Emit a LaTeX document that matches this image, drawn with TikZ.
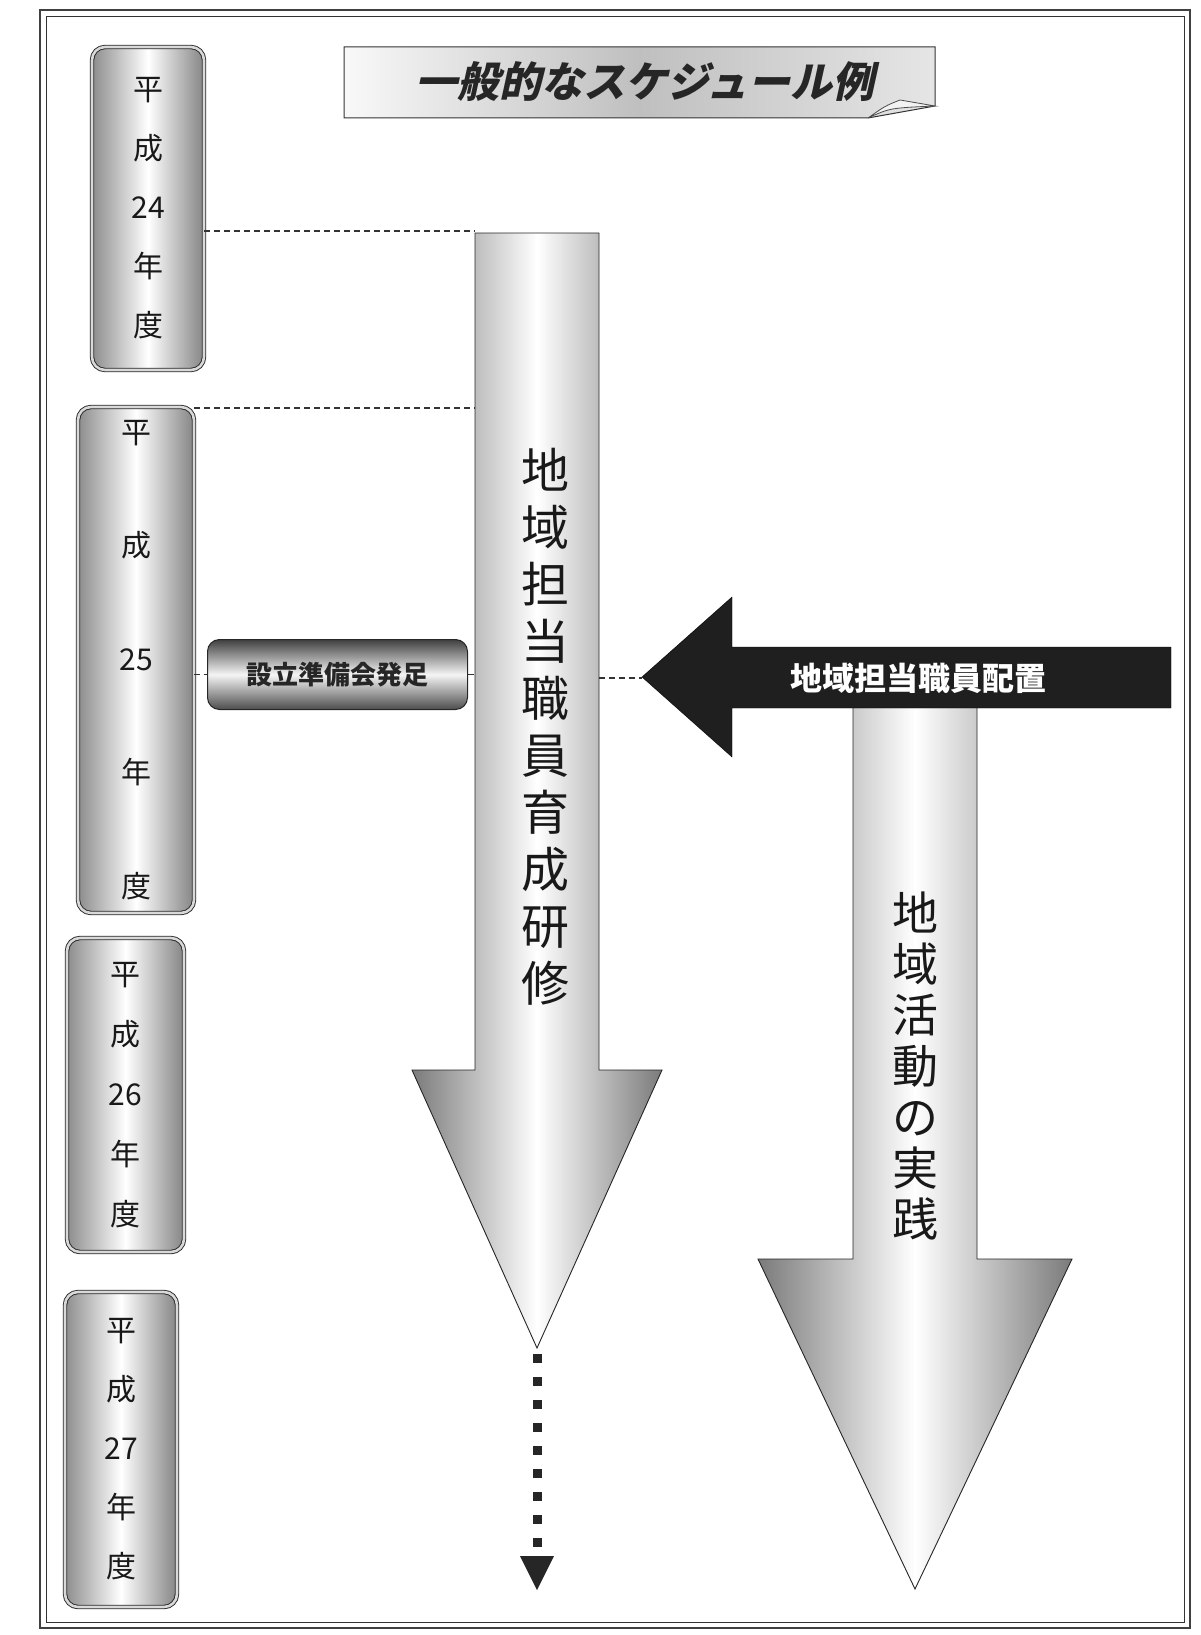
\documentclass[tikz,border=0pt]{standalone}
\usepackage{fontspec}
\setmainfont{Noto Sans CJK JP}
\newfontfamily\titlefont{Noto Sans CJK JP}[FakeSlant=0.22]
\usetikzlibrary{calc}
\newcommand\myyfont[1]{\fontsize{30}{#1}\selectfont}
\tikzset{
  yearbox/.style={draw=black!85, line width=0.9pt, double=gray!30, double distance=2.6pt,
    rounded corners=13pt, left color=black!45, right color=black!48, middle color=white,
    align=center, inner sep=0pt, text=black!90},
  bigarrow/.style={draw=black!85, line width=0.9pt, left color=black!52, right color=black!52, middle color=white},
  blackarrow/.style={fill=black!88, draw=black},
  dashline/.style={draw=black!80, line width=1.1pt, dash pattern=on 6pt off 4pt},
  vtext/.style={align=center, inner sep=0pt, text=black!90},
  button/.style={draw=black!85, line width=1pt, rounded corners=12pt, top color=black!75,
    bottom color=black!70, middle color=gray!8, inner sep=0pt, text=black!85,
    font=\bfseries\fontsize{26}{26}\selectfont},
}
\begin{document}
\begin{tikzpicture}[x=1pt,y=-1pt]
\useasboundingbox (0,0) rectangle (1200,1635);
% outer frame
\draw[line width=2.2pt, black!75] (40,10) rectangle (1190,1628);
\draw[line width=0.8pt, black!80] (46,16) rectangle (1184,1622);

% title
\path[draw=black!80, line width=1pt, left color=gray!5, right color=gray!20, middle color=gray!50]
  (344,47) -- (935,47) -- (935,106) -- (868,118) -- (344,118) -- cycle;
\draw[fill=gray!10, draw=black!70, line width=0.8pt] (868,118) .. controls (890,108) .. (935,106) -- (900,100) .. controls (885,106) .. cycle;
\node[font=\titlefont\bfseries\fontsize{42}{42}\selectfont, text=black!85] (title) at (645,82) {一般的なスケジュール例};

% year boxes
\node[yearbox, minimum width=112pt, minimum height=323pt, font=\myyfont{59}] (y24) at (148,208.5) {平\\成\\24\\年\\度};
\node[yearbox, minimum width=116pt, minimum height=506pt, font=\myyfont{113.5}] (y25) at (136,660) {平\\成\\25\\年\\度};
\node[yearbox, minimum width=117pt, minimum height=314pt, font=\myyfont{60}] (y26) at (125.5,1095) {平\\成\\26\\年\\度};
\node[yearbox, minimum width=112pt, minimum height=315pt, font=\myyfont{59}] (y27) at (121,1449.5) {平\\成\\27\\年\\度};

% arrow 2 (drawn first, beneath the black arrow)
\path[bigarrow] (853,705) -- (977,705) -- (977,1259) -- (1072,1259) -- (915,1589) -- (758,1259) -- (853,1259) -- cycle;
\node[vtext, font=\fontsize{46}{51}\selectfont] (t2) at (915,1066) {地\\域\\活\\動\\の\\実\\践};

% arrow 1
\path[bigarrow] (475,233) -- (599,233) -- (599,1070) -- (662,1070) -- (537,1348) -- (412,1070) -- (475,1070) -- cycle;
\node[vtext, font=\fontsize{48}{57}\selectfont] (t1) at (545,727) {地\\域\\担\\当\\職\\員\\育\\成\\研\\修};
\coordinate (a1w1) at (475,231);
\coordinate (a1w2) at (475,408);
\coordinate (a1w3) at (475,676);
\coordinate (a1e) at (599,678);
\coordinate (a1tip) at (537,1348);
\coordinate (dotend) at (537,1556);

% black arrow
\path[blackarrow] (1171,647) -- (732,647) -- (732,597) -- (642,677) -- (732,757) -- (732,708) -- (1171,708) -- cycle;
\coordinate (btip) at (642,678);
\node[font=\bfseries\fontsize{32}{32}\selectfont, text=white] (t3) at (918,678) {地域担当職員配置};

% button
\node[button, minimum width=260pt, minimum height=70pt] (btn) at (337.5,674.5) {設立準備会発足};

% dashed connectors
\draw[dashline] (y24.east |- a1w1) -- (a1w1);
\draw[dashline] (y25.east |- a1w2) -- (a1w2);
\draw[dashline] (y25.east |- btn.west) -- (btn.west);
\draw[dashline] (btn.east) -- (btn.east -| a1w3);
\draw[dashline] (a1e) -- (btip);

% dotted continuation
\draw[line width=9pt, dash pattern=on 9pt off 14pt, black!85] ($(a1tip)+(0,6)$) -- (dotend);
\fill[black!85] ($(dotend)+(-17,0)$) -- ($(dotend)+(17,0)$) -- ($(dotend)+(0,34)$) -- cycle;
\end{tikzpicture}
\end{document}
